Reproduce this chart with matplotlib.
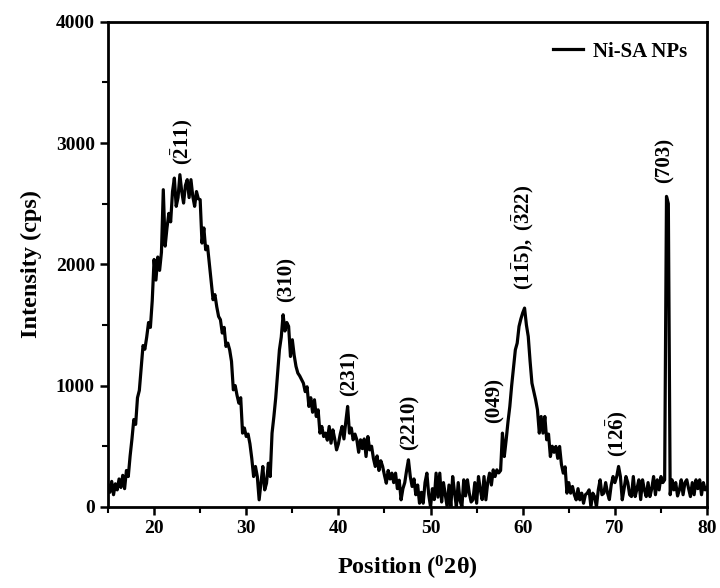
import numpy as np
import matplotlib
matplotlib.use("Agg")
import matplotlib.pyplot as plt

plt.rcParams['font.family'] = ['Liberation Serif', 'DejaVu Serif']
plt.rcParams['font.weight'] = 'bold'
plt.rcParams['mathtext.fontset'] = 'custom'
plt.rcParams['mathtext.rm'] = 'Liberation Serif'
plt.rcParams['mathtext.bf'] = 'Liberation Serif:bold'
plt.rcParams['mathtext.it'] = 'Liberation Serif:italic'

# XRD pattern, 2theta from 15 to 80 in 0.2 deg steps
two_theta = np.round(np.arange(15.0, 80.01, 0.2), 1)
intensity = [
    180, 120, 210, 100, 190,      # 15
    140, 230, 160, 260, 150,      # 16
    300, 250, 420, 560, 720,      # 17
    680, 900, 960, 1150, 1330,    # 18
    1300, 1400, 1520, 1480, 1700, # 19
    2040, 1870, 2060, 1950, 2100, # 20
    2615, 2150, 2300, 2420, 2350, # 21
    2600, 2711, 2478, 2550, 2739, # 22
    2600, 2505, 2650, 2698, 2550, # 23
    2698, 2560, 2478, 2600, 2540, # 24
    2533, 2175, 2300, 2120, 2150, # 25
    2000, 1850, 1708, 1750, 1650, # 26
    1570, 1543, 1433, 1480, 1323, # 27
    1350, 1295, 1200, 965, 1000,  # 28
    920, 855, 900, 608, 650,      # 29
    580, 600, 520, 400, 250,      # 30
    333, 250, 58, 200, 333,       # 31
    140, 195, 360, 250, 608,      # 32
    745, 900, 1100, 1295, 1400,   # 33
    1584, 1450, 1520, 1488, 1240, # 34
    1378, 1250, 1158, 1103, 1080, # 35
    1050, 1020, 950, 990, 828,    # 36
    900, 780, 883, 745, 800,      # 37
    608, 663, 580, 608, 550,      # 38
    663, 525, 635, 560, 470,      # 39
    520, 600, 663, 560, 700,      # 40
    828, 608, 650, 553, 600,      # 41
    553, 450, 553, 480, 560,      # 42
    415, 580, 470, 500, 400,      # 43
    333, 420, 300, 380, 333,      # 44
    260, 195, 300, 230, 278,      # 45
    200, 278, 150, 220, 58,       # 46
    150, 200, 300, 388, 250,      # 47
    168, 230, 100, 180, 30,       # 48
    120, 30, 200, 278, 100,       # 49
    0, 150, 60, 278, 80,          # 50
    278, 40, 200, 100, 0,         # 51
    180, 0, 250, 120, 0,          # 52
    200, 50, 0, 223, 90,          # 53
    223, 113, 40, 58, 200,        # 54
    30, 250, 140, 60, 250,        # 55
    58, 200, 278, 180, 305,       # 56
    250, 305, 280, 300, 608,      # 57
    415, 550, 700, 828, 1000,     # 58
    1150, 1295, 1350, 1488, 1550, # 59
    1600, 1639, 1500, 1405, 1200, # 60
    1020, 950, 883, 800, 608,     # 61
    745, 608, 745, 553, 600,      # 62
    415, 500, 450, 498, 400,      # 63
    498, 350, 278, 330, 113,      # 64
    200, 113, 168, 100, 58,       # 65
    150, 58, 113, 30, 100,        # 66
    113, 140, 0, 113, 85,         # 67
    0, 140, 223, 100, 113,        # 68
    200, 113, 60, 180, 250,       # 69
    200, 250, 333, 250, 58,       # 70
    150, 250, 200, 100, 85,       # 71
    250, 85, 150, 223, 60,        # 72
    223, 140, 85, 200, 85,        # 73
    150, 250, 100, 223, 140,      # 74
    250, 200, 223, 2560, 2500,    # 75
    100, 223, 140, 200, 90,       # 76
    140, 223, 100, 200, 223,      # 77
    150, 85, 200, 100, 223,       # 78
    150, 223, 100, 200, 140,      # 79
    160,                          # 80
]

# peak labels: text, 2theta position, intensity at the text bottom
peak_labels = [r'$\mathrm{(\bar{2}11)}$', '(310)', '(231)', '(2210)', '(049)',
               r'$\mathbf{(1\bar{1}5),\ (\bar{3}22)}$', r'$\mathrm{(12\bar{6})}$', '(703)']
peak_pos = [23.1, 34.4, 41.2, 47.75, 56.9, 60.0, 70.3, 75.4]
peak_y = [2820, 1690, 910, 470, 690, 1790, 410, 2670]

fig = plt.figure(figsize=(7.2, 5.88), dpi=100)
ax = fig.add_axes([0.15, 0.138, 0.832, 0.825])

ax.plot(two_theta, intensity, color='black', lw=2.3, label='Ni-SA NPs')

for txt, x, y in zip(peak_labels, peak_pos, peak_y):
    ax.text(x, y, txt, rotation=90, ha='center', va='bottom', fontsize=15,
            fontweight='bold')

ax.set_xlim(15, 80)
ax.set_ylim(0, 4000)
ax.set_xticks([20, 30, 40, 50, 60, 70, 80])
ax.set_xticks(np.arange(15, 81, 5), minor=True)
ax.set_yticks([0, 1000, 2000, 3000, 4000])
ax.set_yticks(np.arange(0, 4001, 500), minor=True)
ax.tick_params(which='major', direction='out', length=6, width=1.8, labelsize=14)
ax.tick_params(which='minor', direction='out', length=4, width=1.5)
for s in ax.spines.values():
    s.set_linewidth(2)

ax.set_xlabel(r'Position ($^{\mathbf{0}}$2θ)', fontsize=17.5, fontweight='bold', labelpad=12)
ax.set_ylabel('Intensity (cps)', fontsize=17.5, fontweight='bold', labelpad=10)

leg = ax.legend(loc='upper right', frameon=False, fontsize=15, handlelength=1.4,
                handletextpad=0.5, borderaxespad=0.55)
for t in leg.get_texts():
    t.set_fontweight('bold')

fig.savefig('out.png', dpi=100)
